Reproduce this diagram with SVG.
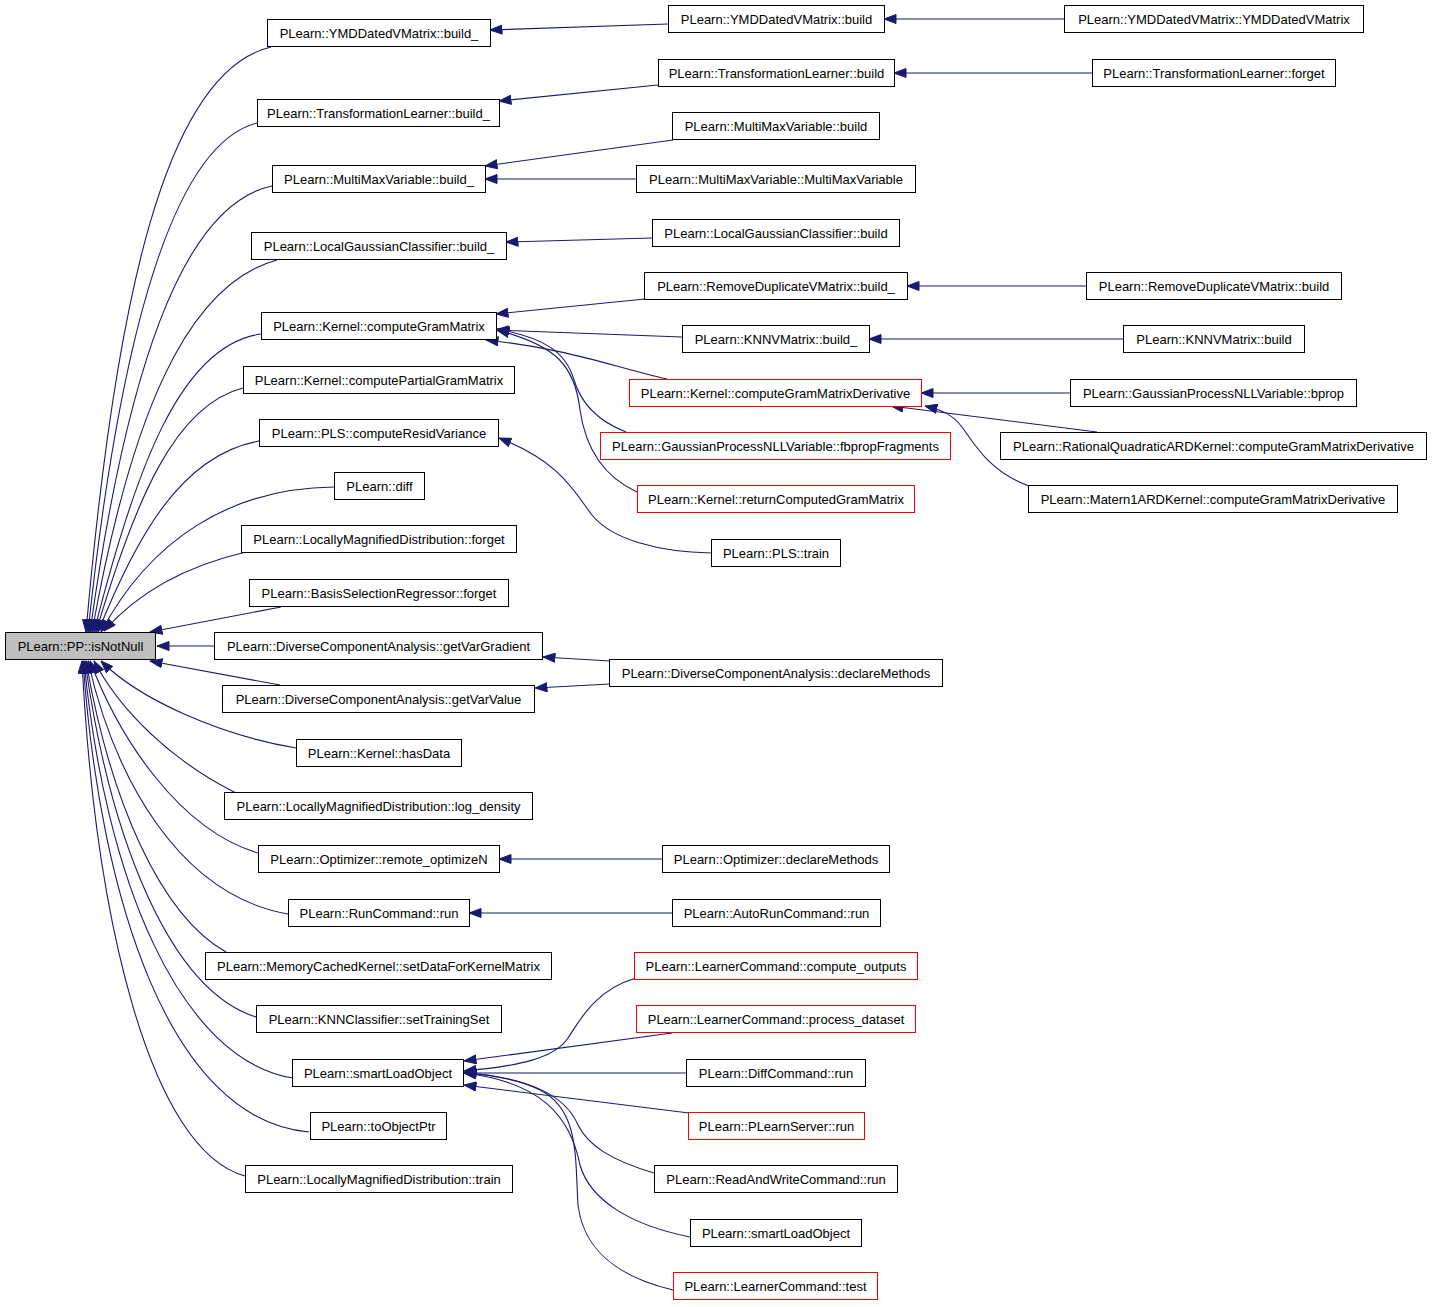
<svg xmlns="http://www.w3.org/2000/svg" width="1432" height="1307" viewBox="0 0 1432 1307">
<style>
.n rect{fill:#ffffff;stroke:#000000;stroke-width:1}
.n.red rect{stroke:#ff0000}
.n.root rect{fill:#bfbfbf}
.n text{font-family:"Liberation Sans",Arial,Helvetica,sans-serif;font-size:13px;text-anchor:middle;fill:#000000}
#edges path{fill:none;stroke:#191970;stroke-width:1.1;marker-end:url(#arr)}
</style>
<defs>
<marker id="arr" markerUnits="userSpaceOnUse" markerWidth="13" markerHeight="10" viewBox="0 0 13 10" refX="12.5" refY="5" orient="auto">
<path d="M0.5,0.5 L12.5,5 L0.5,9.5 z" fill="#191970" stroke="#191970" stroke-width="1"/>
</marker>
</defs>
<rect x="0" y="0" width="1432" height="1307" fill="#ffffff"/>
<g id="edges">
<path d="M271,47 C165,72 115,300 86,632"/>
<path d="M257,123 C170,145 118,350 88,632"/>
<path d="M272,186 C180,205 125,380 90,632"/>
<path d="M277,260 C185,285 130,420 92,632"/>
<path d="M261,334 C180,345 135,470 94,632"/>
<path d="M243,388 C175,405 135,500 96,632"/>
<path d="M259,441 C180,455 135,540 98,632"/>
<path d="M334,487 C230,488 150,540 101,632"/>
<path d="M246,552 C190,565 140,590 104,631"/>
<path d="M281,607 L150,632"/>
<path d="M214,646 L157,646"/>
<path d="M280,685 L150,661"/>
<path d="M296,748 C220,735 140,700 101,661"/>
<path d="M236,793 C170,760 120,710 94,661"/>
<path d="M258,853 C180,830 120,740 90,661"/>
<path d="M288,914 C180,895 115,780 88,661"/>
<path d="M226,952 C160,915 110,800 86,661"/>
<path d="M256,1017 C170,990 110,840 85,661"/>
<path d="M293,1078 C180,1060 105,880 84,661"/>
<path d="M309,1132 C170,1120 100,900 83,661"/>
<path d="M245,1176 C150,1150 95,920 82,661"/>
<path d="M668,24 L490,30"/>
<path d="M1064,19 L884,19"/>
<path d="M658,85 L499,101"/>
<path d="M1092,73 L894,73"/>
<path d="M673,140 L485,166"/>
<path d="M636,179 L485,179"/>
<path d="M652,238 L506,242"/>
<path d="M645,299 L496,314"/>
<path d="M1086,286 L907,286"/>
<path d="M682,337 L496,330"/>
<path d="M1123,339 L869,339"/>
<path d="M667,379 C610,366 570,349 486,340"/>
<path d="M626,432 C595,420 580,400 574,380 C566,352 545,338 497,329"/>
<path d="M637,492 C600,475 585,445 580,410 C575,365 555,345 497,330"/>
<path d="M1070,393 L921,393"/>
<path d="M1097,432 L891,406"/>
<path d="M1029,486 C990,472 975,445 962,427 C952,414 942,410 925,406"/>
<path d="M711,553 C660,552 612,540 592,515 C573,490 560,462 499,438"/>
<path d="M610,661 L543,657"/>
<path d="M610,684 L535,688"/>
<path d="M662,859 L499,859"/>
<path d="M672,913 L469,913"/>
<path d="M636,978 C595,990 580,1020 568,1038 C555,1058 520,1066 464,1071"/>
<path d="M672,1033 L464,1061"/>
<path d="M686,1073 L464,1073"/>
<path d="M689,1113 L464,1085"/>
<path d="M654,1173 C610,1160 588,1145 578,1125 C565,1095 530,1078 464,1073"/>
<path d="M690,1237 C630,1225 590,1200 580,1165 C570,1115 540,1082 464,1073"/>
<path d="M673,1290 C610,1275 583,1245 578,1205 C575,1160 580,1110 540,1090 C515,1078 490,1074 464,1073"/>
</g>
<g id="root" class="n root"><rect x="5.5" y="632.5" width="150" height="27"/><text x="80.5" y="650.5">PLearn::PP::isNotNull</text></g>
<g id="n1" class="n"><rect x="267.5" y="19.5" width="223" height="27"/><text x="379" y="37.5">PLearn::YMDDatedVMatrix::build_</text></g>
<g id="n2" class="n"><rect x="257.5" y="99.5" width="242" height="27"/><text x="378.5" y="117.5">PLearn::TransformationLearner::build_</text></g>
<g id="n3" class="n"><rect x="272.5" y="165.5" width="213" height="27"/><text x="379" y="183.5">PLearn::MultiMaxVariable::build_</text></g>
<g id="n4" class="n"><rect x="251.5" y="232.5" width="255" height="27"/><text x="379" y="250.5">PLearn::LocalGaussianClassifier::build_</text></g>
<g id="n5" class="n"><rect x="261.5" y="312.5" width="235" height="27"/><text x="379" y="330.5">PLearn::Kernel::computeGramMatrix</text></g>
<g id="n6" class="n"><rect x="243.5" y="366.5" width="271" height="27"/><text x="379" y="384.5">PLearn::Kernel::computePartialGramMatrix</text></g>
<g id="n7" class="n"><rect x="259.5" y="419.5" width="239" height="27"/><text x="379" y="437.5">PLearn::PLS::computeResidVariance</text></g>
<g id="n8" class="n"><rect x="334.5" y="472.5" width="90" height="27"/><text x="379.5" y="490.5">PLearn::diff</text></g>
<g id="n9" class="n"><rect x="241.5" y="525.5" width="275" height="27"/><text x="379" y="543.5">PLearn::LocallyMagnifiedDistribution::forget</text></g>
<g id="n10" class="n"><rect x="249.5" y="579.5" width="259" height="27"/><text x="379" y="597.5">PLearn::BasisSelectionRegressor::forget</text></g>
<g id="n11" class="n"><rect x="214.5" y="632.5" width="328" height="27"/><text x="378.5" y="650.5">PLearn::DiverseComponentAnalysis::getVarGradient</text></g>
<g id="n12" class="n"><rect x="222.5" y="685.5" width="312" height="27"/><text x="378.5" y="703.5">PLearn::DiverseComponentAnalysis::getVarValue</text></g>
<g id="n13" class="n"><rect x="296.5" y="739.5" width="165" height="27"/><text x="379" y="757.5">PLearn::Kernel::hasData</text></g>
<g id="n14" class="n"><rect x="224.5" y="792.5" width="308" height="27"/><text x="378.5" y="810.5">PLearn::LocallyMagnifiedDistribution::log_density</text></g>
<g id="n15" class="n"><rect x="258.5" y="845.5" width="241" height="27"/><text x="379" y="863.5">PLearn::Optimizer::remote_optimizeN</text></g>
<g id="n16" class="n"><rect x="288.5" y="899.5" width="181" height="27"/><text x="379" y="917.5">PLearn::RunCommand::run</text></g>
<g id="n17" class="n"><rect x="205.5" y="952.5" width="346" height="27"/><text x="378.5" y="970.5">PLearn::MemoryCachedKernel::setDataForKernelMatrix</text></g>
<g id="n18" class="n"><rect x="256.5" y="1005.5" width="245" height="27"/><text x="379" y="1023.5">PLearn::KNNClassifier::setTrainingSet</text></g>
<g id="n19" class="n"><rect x="292.5" y="1059.5" width="171" height="27"/><text x="378" y="1077.5">PLearn::smartLoadObject</text></g>
<g id="n20" class="n"><rect x="310.5" y="1112.5" width="136" height="27"/><text x="378.5" y="1130.5">PLearn::toObjectPtr</text></g>
<g id="n21" class="n"><rect x="245.5" y="1165.5" width="267" height="27"/><text x="379" y="1183.5">PLearn::LocallyMagnifiedDistribution::train</text></g>
<g id="m1" class="n"><rect x="668.5" y="5.5" width="216" height="27"/><text x="776.5" y="23.5">PLearn::YMDDatedVMatrix::build</text></g>
<g id="m2" class="n"><rect x="658.5" y="59.5" width="236" height="27"/><text x="776.5" y="77.5">PLearn::TransformationLearner::build</text></g>
<g id="m3" class="n"><rect x="672.5" y="112.5" width="207" height="27"/><text x="776" y="130.5">PLearn::MultiMaxVariable::build</text></g>
<g id="m4" class="n"><rect x="636.5" y="165.5" width="279" height="27"/><text x="776" y="183.5">PLearn::MultiMaxVariable::MultiMaxVariable</text></g>
<g id="m5" class="n"><rect x="652.5" y="219.5" width="247" height="27"/><text x="776" y="237.5">PLearn::LocalGaussianClassifier::build</text></g>
<g id="m6" class="n"><rect x="644.5" y="272.5" width="263" height="27"/><text x="776" y="290.5">PLearn::RemoveDuplicateVMatrix::build_</text></g>
<g id="m7" class="n"><rect x="682.5" y="325.5" width="187" height="27"/><text x="776" y="343.5">PLearn::KNNVMatrix::build_</text></g>
<g id="m8" class="n red"><rect x="629.5" y="379.5" width="292" height="27"/><text x="775.5" y="397.5">PLearn::Kernel::computeGramMatrixDerivative</text></g>
<g id="m9" class="n red"><rect x="600.5" y="432.5" width="350" height="27"/><text x="775.5" y="450.5">PLearn::GaussianProcessNLLVariable::fbpropFragments</text></g>
<g id="m10" class="n red"><rect x="637.5" y="485.5" width="277" height="27"/><text x="776" y="503.5">PLearn::Kernel::returnComputedGramMatrix</text></g>
<g id="m11" class="n"><rect x="711.5" y="539.5" width="129" height="27"/><text x="776" y="557.5">PLearn::PLS::train</text></g>
<g id="m12" class="n"><rect x="609.5" y="659.5" width="333" height="27"/><text x="776" y="677.5">PLearn::DiverseComponentAnalysis::declareMethods</text></g>
<g id="m13" class="n"><rect x="662.5" y="845.5" width="227" height="27"/><text x="776" y="863.5">PLearn::Optimizer::declareMethods</text></g>
<g id="m14" class="n"><rect x="672.5" y="899.5" width="208" height="27"/><text x="776.5" y="917.5">PLearn::AutoRunCommand::run</text></g>
<g id="m15" class="n red"><rect x="634.5" y="952.5" width="283" height="27"/><text x="776" y="970.5">PLearn::LearnerCommand::compute_outputs</text></g>
<g id="m16" class="n red"><rect x="636.5" y="1005.5" width="279" height="27"/><text x="776" y="1023.5">PLearn::LearnerCommand::process_dataset</text></g>
<g id="m17" class="n"><rect x="686.5" y="1059.5" width="179" height="27"/><text x="776" y="1077.5">PLearn::DiffCommand::run</text></g>
<g id="m18" class="n red"><rect x="688.5" y="1112.5" width="176" height="27"/><text x="776.5" y="1130.5">PLearn::PLearnServer::run</text></g>
<g id="m19" class="n"><rect x="654.5" y="1165.5" width="243" height="27"/><text x="776" y="1183.5">PLearn::ReadAndWriteCommand::run</text></g>
<g id="m20" class="n"><rect x="690.5" y="1219.5" width="171" height="27"/><text x="776" y="1237.5">PLearn::smartLoadObject</text></g>
<g id="m21" class="n red"><rect x="673.5" y="1272.5" width="204" height="27"/><text x="775.5" y="1290.5">PLearn::LearnerCommand::test</text></g>
<g id="r1" class="n"><rect x="1064.5" y="5.5" width="299" height="27"/><text x="1214" y="23.5">PLearn::YMDDatedVMatrix::YMDDatedVMatrix</text></g>
<g id="r2" class="n"><rect x="1092.5" y="59.5" width="243" height="27"/><text x="1214" y="77.5">PLearn::TransformationLearner::forget</text></g>
<g id="r3" class="n"><rect x="1086.5" y="272.5" width="255" height="27"/><text x="1214" y="290.5">PLearn::RemoveDuplicateVMatrix::build</text></g>
<g id="r4" class="n"><rect x="1123.5" y="325.5" width="181" height="27"/><text x="1214" y="343.5">PLearn::KNNVMatrix::build</text></g>
<g id="r5" class="n"><rect x="1070.5" y="379.5" width="286" height="27"/><text x="1213.5" y="397.5">PLearn::GaussianProcessNLLVariable::bprop</text></g>
<g id="r6" class="n"><rect x="1000.5" y="432.5" width="426" height="27"/><text x="1213.5" y="450.5">PLearn::RationalQuadraticARDKernel::computeGramMatrixDerivative</text></g>
<g id="r7" class="n"><rect x="1028.5" y="485.5" width="369" height="27"/><text x="1213" y="503.5">PLearn::Matern1ARDKernel::computeGramMatrixDerivative</text></g>
</svg>
